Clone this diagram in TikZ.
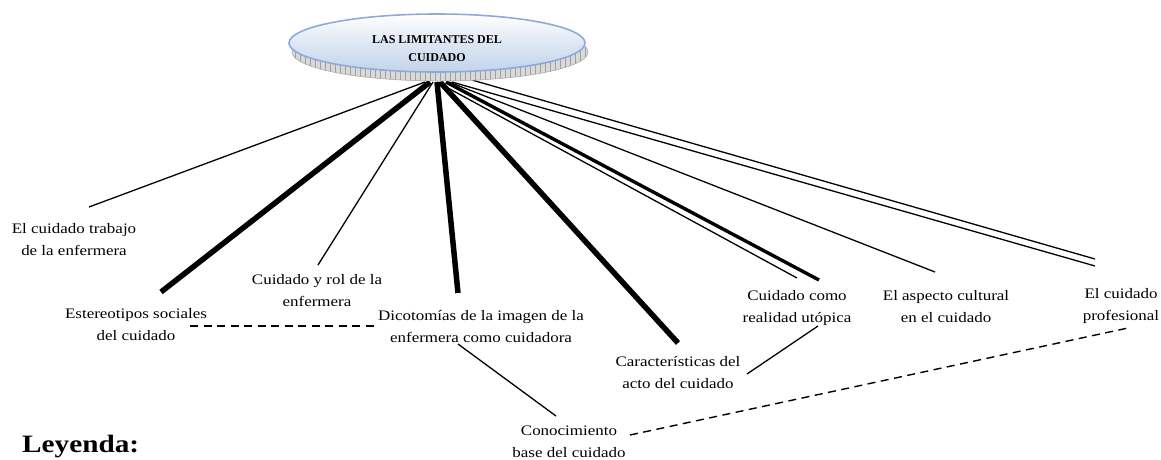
\documentclass[tikz,border=0pt]{standalone}
\usepackage{fontspec}
\setmainfont{Liberation Serif}
\newfontfamily\lblfont{Liberation Serif}[FakeStretch=1.17]
\usetikzlibrary{calc}
\definecolor{ellborder}{HTML}{8EAADB}
\definecolor{ellfill}{HTML}{C3D3EA}
\begin{document}
\begin{tikzpicture}[x=1pt,y=-1pt,
  lbl/.style={align=center,inner sep=0pt,font=\lblfont\fontsize{14.5}{22}\selectfont,text height=10pt,text depth=4pt},
  thinline/.style={line width=1.3pt},
  thickline/.style={line width=5.5pt},
  midline/.style={line width=3.4pt},
  dashline/.style={line width=1.4pt,dash pattern=on 8pt off 5.5pt}]
\useasboundingbox (0,0) rectangle (1161,459);
\clip (0,0) rectangle (1161,459);
\fill[white] (0,0) rectangle (1161,459);

% hub start points
\coordinate (h1) at (425,82);
\coordinate (h2) at (430,82);
\coordinate (h3) at (433,82);
\coordinate (h4) at (437,82);
\coordinate (h5) at (440,82);
\coordinate (h6) at (437,82);
\coordinate (h7) at (446,82);
\coordinate (h8) at (449,82);
\coordinate (h9a) at (472,80);
\coordinate (h9b) at (452,82);

% line ends
\coordinate (e1) at (89,207);
\coordinate (e2) at (161,292);
\coordinate (e3) at (318,265);
\coordinate (e4) at (458,293);
\coordinate (e5) at (678,343);
\coordinate (e6) at (797,278);
\coordinate (e7) at (819,280);
\coordinate (e8) at (935,272);
\coordinate (e9a) at (1095,259);
\coordinate (e9b) at (1095,266);

% labels
\node[lbl] (trab) at (74,252) {El cuidado trabajo\\de la enfermera};
\node[lbl] (este) at (136,337) {Estereotipos sociales\\del cuidado};
\node[lbl] (rol) at (317,303) {Cuidado y rol de la\\enfermera};
\node[lbl] (dico) at (481,339) {Dicotomías de la imagen de la\\enfermera como cuidadora};
\node[lbl] (cono) at (569,454) {Conocimiento\\base del cuidado};
\node[lbl] (cara) at (678,385) {Características del\\acto del cuidado};
\node[lbl] (real) at (797,319) {Cuidado como\\realidad utópica};
\node[lbl] (cult) at (946,319) {El aspecto cultural\\en el cuidado};
\node[lbl] (prof) at (1121,317) {El cuidado\\profesional};

\node[anchor=base west,inner sep=0pt,font=\lblfont\bfseries\fontsize{25}{28}\selectfont] (ley) at (22,452) {Leyenda:};

% spokes
\draw[thinline] (h1) -- (e1);
\draw[thickline] (h2) -- (e2);
\draw[thinline] (h3) -- (e3);
\draw[thickline] (h4) -- (e4);
\draw[thickline] (h5) -- (e5);
\draw[thinline] (h6) -- (e6);
\draw[midline] (h7) -- (e7);
\draw[thinline] (h8) -- (e8);
\draw[thinline] (h9a) -- (e9a);
\draw[thinline] (h9b) -- (e9b);

% cross links
\coordinate (d1a) at (190,326);
\coordinate (d1b) at (376,326);
\draw[dashline] (d1a) -- (d1b);
\coordinate (s1a) at (458,344);
\coordinate (s1b) at (556,416);
\draw[thinline] (s1a) -- (s1b);
\coordinate (s2a) at (747,374);
\coordinate (s2b) at (818,326);
\draw[thinline] (s2a) -- (s2b);
\coordinate (d2a) at (630,435);
\coordinate (d2b) at (1128,328);
\draw[dashline] (d2a) -- (d2b);

% ellipse with shadow
\begin{scope}
\clip (440,52) ellipse [x radius=148, y radius=29];
\fill[gray!30] (440,52) ellipse [x radius=148, y radius=29];
\foreach \xx in {290,295,...,590}{\draw[gray!75,line width=0.6pt] (\xx,20) -- (\xx,85);}
\end{scope}
\draw[gray!70,line width=0.5pt] (440,52) ellipse [x radius=148, y radius=29];
\fill[top color=white,bottom color=ellfill,middle color=ellfill!55] (437,43) ellipse [x radius=148, y radius=29];
\draw[ellborder,line width=1.6pt] (437,43) ellipse [x radius=148, y radius=29];
\node[align=center,inner sep=0pt,font=\bfseries\fontsize{12}{18}\selectfont] (top) at (437,49) {LAS LIMITANTES DEL\\CUIDADO};
\end{tikzpicture}
\end{document}
